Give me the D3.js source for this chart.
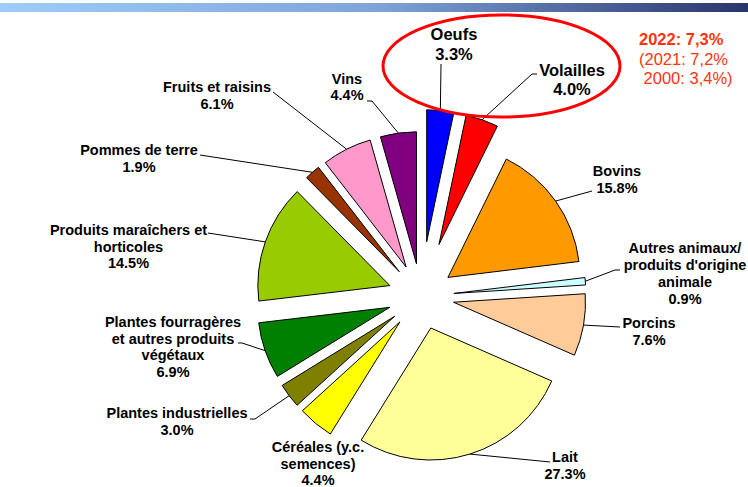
<!DOCTYPE html>
<html>
<head>
<meta charset="utf-8">
<script src="https://cdn.jsdelivr.net/npm/d3@7"></script>
<style>
  html, body { margin: 0; padding: 0; background: #fff; }
  svg { display: block; font-family: "Liberation Sans", Arial, sans-serif; }
</style>
</head>
<body>
<svg id="chart" width="748" height="487"></svg>
<script>
// Données : part de chaque production (%)
const categories = [
    "Oeufs", "Volailles", "Bovins", "Autres animaux/ produits d'origine animale",
    "Porcins", "Lait", "Céréales (y.c. semences)", "Plantes industrielles",
    "Plantes fourragères et autres produits végétaux", "Produits maraîchers et horticoles",
    "Pommes de terre", "Fruits et raisins", "Vins"
];
const values = [3.3, 4.0, 15.8, 0.9, 7.6, 27.3, 4.4, 3.0, 6.9, 14.5, 1.9, 6.1, 4.4];
const colors = ["#0000ff", "#ff0000", "#ff9900", "#ccffff", "#ffcc99", "#ffff99", "#ffff00",
    "#808000", "#008000", "#99cc00", "#993300", "#ff99cc", "#800080"];
const noteLines = ["2022: 7,3%", "(2021: 7,2%", " 2000: 3,4%)"];

// Lignes de texte des étiquettes (nom coupé + pourcentage)
const labelLines = [
    ["Oeufs"], ["Volailles"], ["Bovins"], ["Autres animaux/", "produits d'origine", "animale"],
    ["Porcins"], ["Lait"], ["Céréales (y.c.", "semences)"], ["Plantes industrielles"],
    ["Plantes fourragères", "et autres produits", "végétaux"], ["Produits maraîchers et", "horticoles"],
    ["Pommes de terre"], ["Fruits et raisins"], ["Vins"]
];

// Mise en page des étiquettes : centre x, première ligne de base, points du trait de rappel
const labelLayout = [
    { x: 454, y: 40, lh: 20, big: true, lead: [[441, 64]] },
    { x: 572, y: 76, lh: 19, big: true, lead: [[532, 74], [537, 74]] },
    { x: 617, y: 176, lh: 17, lead: [[592, 191]] },
    { x: 685, y: 253, lh: 17, lead: [[615, 270], [620, 270]] },
    { x: 649, y: 328, lh: 17, lead: [[620, 327]] },
    { x: 565, y: 462, lh: 17, lead: [[550, 462]] },
    { x: 318, y: 452, lh: 16.5, lead: null },
    { x: 177, y: 418, lh: 17, lead: [[255, 419], [250, 419]] },
    { x: 173, y: 327, lh: 16.7, lead: [[242, 343], [238, 343]] },
    { x: 128.5, y: 235, lh: 16.7, lead: [[208, 233]] },
    { x: 139, y: 155, lh: 16.7, lead: [[200, 155]] },
    { x: 217, y: 92, lh: 17, lead: [[273, 92]] },
    { x: 347, y: 84, lh: 16, lead: [[372, 101], [367, 101]] }
];

const cx = 421, cy = 296.5, radius = 132;
const explode = d => (d.index < 2 ? 55 : 33);

const svg = d3.select("#chart");

// Bandeau dégradé en haut
const defs = svg.append("defs");
const grad = defs.append("linearGradient").attr("id", "band").attr("x1", 0).attr("x2", 1);
grad.append("stop").attr("offset", 0).attr("stop-color", "#9dcdfa");
grad.append("stop").attr("offset", 0.5).attr("stop-color", "#7ea5d8");
grad.append("stop").attr("offset", 1).attr("stop-color", "#29346d");
svg.append("rect").attr("x", 0).attr("y", 3).attr("width", 748).attr("height", 9).attr("fill", "url(#band)");

const pie = d3.pie().sort(null).value(d => d);
const arcs = pie(values);
const arc = d3.arc().innerRadius(0).outerRadius(radius);

const mid = d => (d.startAngle + d.endAngle) / 2;
const offset = d => [Math.sin(mid(d)) * explode(d), -Math.cos(mid(d)) * explode(d)];

const g = svg.append("g").attr("transform", `translate(${cx},${cy})`);

g.selectAll("path.slice")
    .data(arcs)
    .join("path")
    .attr("class", "slice")
    .attr("transform", d => `translate(${offset(d)})`)
    .attr("d", arc)
    .attr("fill", (d, i) => colors[i])
    .attr("stroke", "#000")
    .attr("stroke-width", 1)
    .attr("stroke-linejoin", "round");

// Traits de rappel
const line = d3.line();
arcs.forEach((d, i) => {
    const lay = labelLayout[i];
    if (!lay.lead) return;
    const [ox, oy] = offset(d);
    const start = [cx + ox + Math.sin(mid(d)) * radius, cy + oy - Math.cos(mid(d)) * radius];
    svg.append("path")
        .attr("d", line([start, ...lay.lead]))
        .attr("fill", "none")
        .attr("stroke", "#000")
        .attr("stroke-width", 1);
});

// Étiquettes
arcs.forEach((d, i) => {
    const lay = labelLayout[i];
    const lines = labelLines[i].concat([d3.format(".1f")(values[i]) + "%"]);
    const t = svg.append("text")
        .attr("text-anchor", "middle")
        .attr("font-weight", "bold")
        .attr("font-size", lay.big ? 16.5 : 14.5)
        .attr("fill", "#000");
    lines.forEach((s, k) => {
        t.append("tspan").attr("x", lay.x).attr("y", lay.y + k * lay.lh).text(s);
    });
});

// Ellipse rouge autour des volailles et oeufs
svg.append("ellipse")
    .attr("cx", 501.5).attr("cy", 66).attr("rx", 118.5).attr("ry", 51)
    .attr("fill", "none").attr("stroke", "#ff0000").attr("stroke-width", 3);

// Note en rouge
const noteX = [639, 639, 639];
const noteY = [45, 64.5, 83.5];
noteLines.forEach((s, k) => {
    svg.append("text")
        .attr("x", noteX[k]).attr("y", noteY[k])
        .attr("font-size", 16.5)
        .attr("font-weight", k === 0 ? "bold" : "normal")
        .attr("fill", "#ff3311")
        .attr("xml:space", "preserve")
        .style("white-space", "pre")
        .text(s);
});
</script>
</body>
</html>
